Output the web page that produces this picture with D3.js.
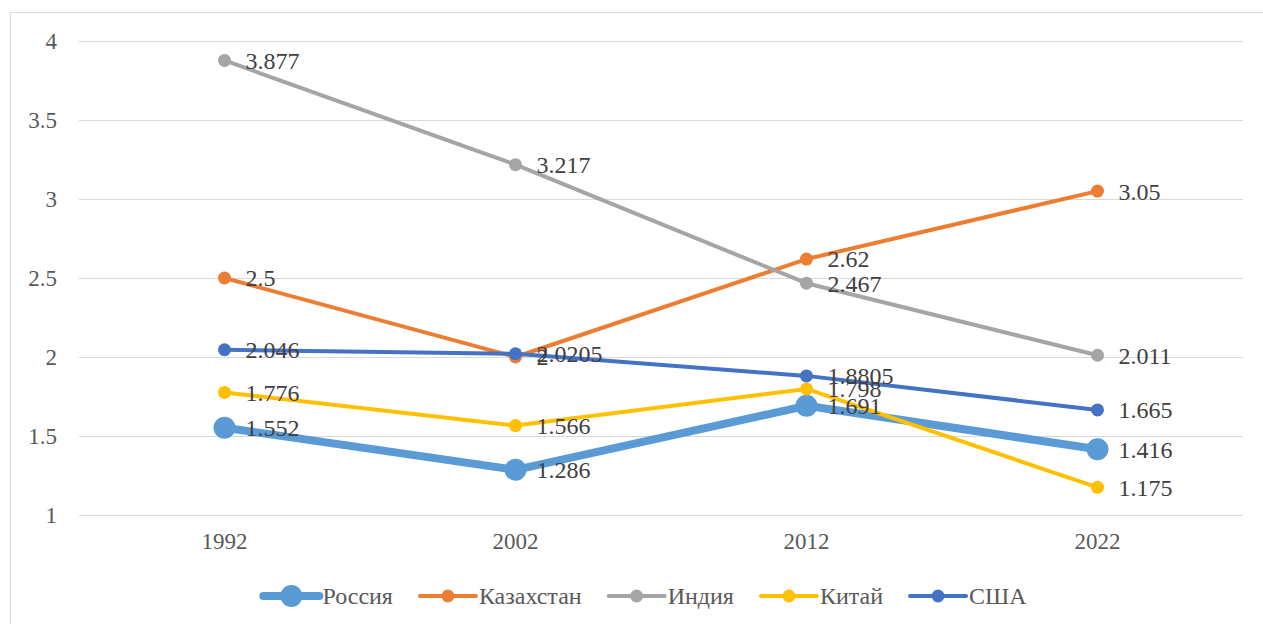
<!DOCTYPE html>
<html>
<head>
<meta charset="utf-8">
<script src="https://cdn.jsdelivr.net/npm/d3@7"></script>
<style>
  html, body { margin: 0; padding: 0; background: #fff; }
  svg { display: block; }
  text { font-family: "Liberation Serif", "Times New Roman", serif; fill: #595959; }
</style>
</head>
<body>
<svg id="chart" width="1263" height="624"></svg>
<script>
// Years on the category axis
const years = ["1992", "2002", "2012", "2022"];
// Value axis ticks
const yTicks = [1, 1.5, 2, 2.5, 3, 3.5, 4];

// Series values, one array per country
const russia     = [1.552, 1.286, 1.691, 1.416];
const kazakhstan = [2.5, 2, 2.62, 3.05];
const india      = [3.877, 3.217, 2.467, 2.011];
const china      = [1.776, 1.566, 1.798, 1.175];
const usa        = [2.046, 2.0205, 1.8805, 1.665];

const seriesNames = ["Россия", "Казахстан", "Индия", "Китай", "США"];
const seriesValues = [russia, kazakhstan, india, china, usa];
const seriesColors = ["#5B9BD5", "#ED7D31", "#A5A5A5", "#FFC000", "#4472C4"];
const lineWidths = [8, 4, 4, 4, 4];
const markerRadii = [11, 6.5, 6.5, 6.5, 6.5];

const FONT = '"Liberation Serif", "Times New Roman", serif';
const AXIS_FS = 23;
const LABEL_FS = 24;

const svg = d3.select("#chart");

// outer chart frame
svg.append("rect")
  .attr("x", 10.5).attr("y", 12.5)
  .attr("width", 1263).attr("height", 624)
  .attr("fill", "none").attr("stroke", "#d9d9d9").attr("stroke-width", 1);

const plot = { left: 79, right: 1243, top: 41, bottom: 515 };

const x = d3.scaleBand().domain(years).range([plot.left, plot.right]);
const y = d3.scaleLinear().domain([1, 4]).range([plot.bottom, plot.top]);

// horizontal gridlines
svg.append("g")
  .selectAll("line")
  .data(yTicks)
  .join("line")
  .attr("x1", plot.left).attr("x2", plot.right)
  .attr("y1", d => Math.round(y(d)) + 0.5).attr("y2", d => Math.round(y(d)) + 0.5)
  .attr("stroke", "#d9d9d9").attr("stroke-width", 1);

// y axis labels
const yAxis = d3.axisLeft(y).tickValues(yTicks).tickSize(0).tickPadding(0)
  .tickFormat(d3.format("~g"));
const gy = svg.append("g").attr("transform", `translate(${plot.left - 22},0)`).call(yAxis)
  .attr("font-family", FONT).attr("font-size", AXIS_FS);
gy.select(".domain").remove();
gy.selectAll("text").attr("fill", "#595959");

// x axis labels
const xAxis = d3.axisBottom(x).tickSize(0).tickPadding(0);
const gx = svg.append("g").attr("transform", `translate(0,${plot.bottom + 18})`).call(xAxis)
  .attr("font-family", FONT).attr("font-size", AXIS_FS);
gx.select(".domain").remove();
gx.selectAll("text").attr("fill", "#595959");

const cx = i => x(years[i]) + x.bandwidth() / 2;
const line = d3.line().x((d, i) => cx(i)).y(d => y(d));

// lines and markers
seriesValues.forEach((vals, s) => {
  const g = svg.append("g");
  g.append("path")
    .datum(vals)
    .attr("d", line)
    .attr("fill", "none")
    .attr("stroke", seriesColors[s])
    .attr("stroke-width", lineWidths[s])
    .attr("stroke-linejoin", "round")
    .attr("stroke-linecap", "round");
  g.selectAll("circle")
    .data(vals)
    .join("circle")
    .attr("cx", (d, i) => cx(i))
    .attr("cy", d => y(d))
    .attr("r", markerRadii[s])
    .attr("fill", seriesColors[s]);
});

// value labels to the right of each point
seriesValues.forEach((vals, s) => {
  svg.append("g")
    .attr("font-family", FONT).attr("font-size", LABEL_FS)
    .selectAll("text")
    .data(vals)
    .join("text")
    .attr("x", (d, i) => cx(i) + 21)
    .attr("y", d => y(d))
    .attr("dy", "0.35em")
    .style("fill", "#404040")
    .text(d => String(d));
});

// legend
const legend = svg.append("g").attr("font-family", FONT).attr("font-size", LABEL_FS);
const items = legend.selectAll("g")
  .data(seriesNames)
  .join("g");
items.append("text")
  .attr("dy", "0.35em")
  .text(d => d);
const lineLen = 56, gapText = 3, gapItem = 27;
const widths = [];
items.select("text").each(function () { widths.push(this.getComputedTextLength()); });
const total = d3.sum(widths) + seriesNames.length * (lineLen + gapText) + (seriesNames.length - 1) * gapItem;
let pos = 645 - total / 2;
const legendY = 596;
items.each(function (d, i) {
  const g = d3.select(this).attr("transform", `translate(${pos},${legendY})`);
  g.insert("line", "text")
    .attr("x1", 0).attr("x2", lineLen)
    .attr("y1", 0).attr("y2", 0)
    .attr("stroke", seriesColors[i])
    .attr("stroke-width", lineWidths[i])
    .attr("stroke-linecap", "round");
  g.insert("circle", "text")
    .attr("cx", lineLen / 2).attr("cy", 0)
    .attr("r", markerRadii[i])
    .attr("fill", seriesColors[i]);
  g.select("text").attr("x", lineLen + gapText);
  pos += lineLen + gapText + widths[i] + gapItem;
});
</script>
</body>
</html>
